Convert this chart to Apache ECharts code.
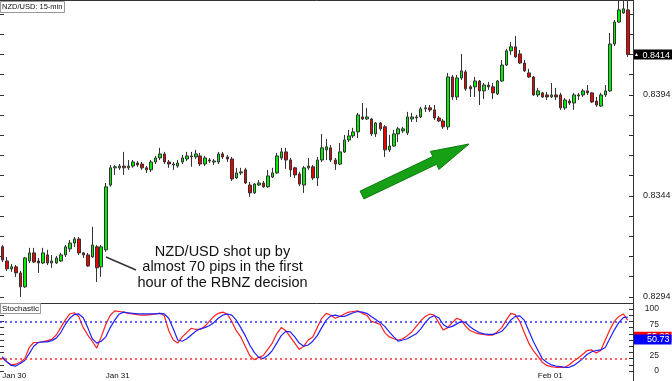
<!DOCTYPE html>
<html><head><meta charset="utf-8">
<script src="https://cdn.jsdelivr.net/npm/echarts@6/dist/echarts.min.js"></script>
<style>html,body{margin:0;padding:0;background:#fff}#c{width:672px;height:381px}</style>
</head><body><div id="c"></div>
<script>
// ---- NZD/USD 15-min candles (140 bars) ----
const open = [
0.83188,0.83118,0.83079,0.83089,0.83059,0.82990,0.83118,0.83158,0.83118,0.83108,
0.83148,0.83108,0.83108,0.83118,0.83148,0.83178,0.83207,0.83227,0.83158,0.83148,
0.83138,0.83188,0.83089,0.83173,0.83494,0.83579,0.83579,0.83588,0.83579,0.83588,
0.83603,0.83598,0.83579,0.83569,0.83608,0.83628,0.83648,0.83608,0.83593,0.83588,
0.83608,0.83623,0.83638,0.83633,0.83638,0.83598,0.83618,0.83608,0.83608,0.83648,
0.83633,0.83623,0.83529,0.83554,0.83569,0.83494,0.83455,0.83494,0.83504,0.83485,
0.83534,0.83554,0.83628,0.83658,0.83618,0.83579,0.83549,0.83494,0.83579,0.83584,
0.83529,0.83618,0.83668,0.83678,0.83618,0.83598,0.83658,0.83717,0.83737,0.83757,
0.83831,0.83821,0.83821,0.83747,0.83801,0.83782,0.83668,0.83687,0.83747,0.83762,
0.83752,0.83821,0.83826,0.83831,0.83871,0.83876,0.83866,0.83826,0.83811,0.83782,
0.84029,0.83930,0.84024,0.84054,0.83980,0.83980,0.84009,0.83960,0.83989,0.83980,
0.83945,0.84009,0.84088,0.84158,0.84178,0.84143,0.84098,0.84049,0.84029,0.83940,
0.83950,0.83940,0.83930,0.83940,0.83940,0.83876,0.83910,0.83900,0.83935,0.83940,
0.83960,0.83950,0.83910,0.83885,0.83940,0.83960,0.84192,0.84301,0.84346,0.84361];
const close = [
0.83123,0.83079,0.83089,0.83059,0.82990,0.83133,0.83158,0.83113,0.83108,0.83158,
0.83108,0.83118,0.83133,0.83148,0.83188,0.83207,0.83227,0.83158,0.83148,0.83093,
0.83197,0.83084,0.83188,0.83485,0.83579,0.83584,0.83588,0.83579,0.83588,0.83608,
0.83593,0.83579,0.83569,0.83608,0.83628,0.83648,0.83608,0.83598,0.83598,0.83603,
0.83628,0.83638,0.83633,0.83648,0.83598,0.83628,0.83613,0.83613,0.83648,0.83633,
0.83623,0.83524,0.83554,0.83559,0.83504,0.83455,0.83499,0.83504,0.83485,0.83539,
0.83554,0.83638,0.83658,0.83618,0.83569,0.83544,0.83499,0.83579,0.83588,0.83529,
0.83618,0.83678,0.83683,0.83618,0.83598,0.83658,0.83717,0.83737,0.83757,0.83841,
0.83821,0.83831,0.83747,0.83801,0.83772,0.83668,0.83687,0.83747,0.83772,0.83772,
0.83831,0.83831,0.83831,0.83871,0.83876,0.83866,0.83826,0.83811,0.83782,0.84029,
0.83930,0.84024,0.84059,0.83970,0.83970,0.84009,0.83960,0.83989,0.83980,0.83950,
0.84009,0.84088,0.84158,0.84178,0.84128,0.84098,0.84059,0.84029,0.83940,0.83960,
0.83930,0.83930,0.83940,0.83930,0.83876,0.83915,0.83900,0.83940,0.83940,0.83960,
0.83950,0.83905,0.83890,0.83940,0.83960,0.84192,0.84301,0.84361,0.84366,0.84140];
const low = [
0.83113,0.83069,0.83064,0.83039,0.82940,0.82985,0.83108,0.83108,0.83059,0.83103,
0.83098,0.83084,0.83103,0.83113,0.83138,0.83163,0.83188,0.83148,0.83133,0.83089,
0.83133,0.83014,0.83039,0.83163,0.83485,0.83544,0.83569,0.83544,0.83569,0.83579,
0.83584,0.83569,0.83554,0.83559,0.83598,0.83618,0.83598,0.83579,0.83569,0.83579,
0.83598,0.83613,0.83584,0.83623,0.83588,0.83588,0.83603,0.83593,0.83598,0.83623,
0.83608,0.83514,0.83524,0.83544,0.83499,0.83435,0.83450,0.83489,0.83480,0.83480,
0.83529,0.83549,0.83618,0.83574,0.83534,0.83529,0.83489,0.83455,0.83569,0.83519,
0.83489,0.83608,0.83618,0.83608,0.83569,0.83593,0.83653,0.83707,0.83727,0.83727,
0.83816,0.83816,0.83737,0.83732,0.83762,0.83633,0.83658,0.83683,0.83707,0.83752,
0.83742,0.83806,0.83806,0.83826,0.83856,0.83856,0.83816,0.83806,0.83772,0.83767,
0.83915,0.83915,0.84014,0.83960,0.83930,0.83930,0.83890,0.83920,0.83965,0.83920,
0.83940,0.84004,0.84083,0.84138,0.84123,0.84093,0.84054,0.84024,0.83935,0.83930,
0.83925,0.83915,0.83925,0.83915,0.83866,0.83866,0.83890,0.83866,0.83915,0.83930,
0.83940,0.83900,0.83881,0.83881,0.83930,0.83955,0.84182,0.84296,0.84341,0.84128];
const high = [
0.83197,0.83138,0.83103,0.83098,0.83069,0.83138,0.83183,0.83183,0.83133,0.83183,
0.83173,0.83148,0.83143,0.83158,0.83197,0.83222,0.83237,0.83237,0.83163,0.83158,
0.83287,0.83197,0.83197,0.83504,0.83593,0.83593,0.83598,0.83658,0.83618,0.83618,
0.83613,0.83608,0.83588,0.83618,0.83638,0.83678,0.83658,0.83618,0.83608,0.83618,
0.83643,0.83658,0.83658,0.83668,0.83653,0.83638,0.83628,0.83623,0.83658,0.83658,
0.83643,0.83633,0.83579,0.83579,0.83579,0.83509,0.83504,0.83519,0.83514,0.83569,
0.83579,0.83653,0.83678,0.83678,0.83628,0.83584,0.83559,0.83588,0.83628,0.83593,
0.83633,0.83747,0.83722,0.83692,0.83628,0.83702,0.83742,0.83767,0.83777,0.83851,
0.83900,0.83876,0.83826,0.83806,0.83806,0.83791,0.83742,0.83767,0.83782,0.83782,
0.83856,0.83851,0.83841,0.83881,0.83890,0.83890,0.83890,0.83836,0.83821,0.84049,
0.84039,0.84039,0.84143,0.84064,0.83989,0.84029,0.84014,0.83999,0.84004,0.83999,
0.84014,0.84113,0.84168,0.84202,0.84232,0.84163,0.84113,0.84069,0.84034,0.83975,
0.83955,0.83955,0.83999,0.83975,0.83950,0.83925,0.83920,0.83950,0.83950,0.83970,
0.83989,0.83955,0.83930,0.83950,0.83989,0.84247,0.84311,0.84420,0.84420,0.84420];

// ---- Stochastic oscillator ----
const stochK = [
21,15,10,11,14,20,38,46,46,47, 49,51,58,70,82,92,94,88,70,58,
48,37,55,75,90,97,96,95,93,92, 91,90,90,91,92,93,89,65,50,45,
55,62,69,67,
67,72,80,88,93,95,92,80,65,55, 40,25,18,22,25,35,45,60,70,65,
55,45,35,40,50,55,70,85,93,90, 85,88,92,95,96,97,93,90,80,78,
75,62,55,52,
50,52,57,63,72,81,88,92,90,78, 66,70,78,85,82,72,65,62,60,59,
58,58,63,70,82,93,91,80,62,45, 33,24,14,9,7,6,6,6,10,16,
21,27,33,34,29,33,50,66,80,88, 92,82];
const stochD = [
23,15,9,8,12,17,28,40,46,47, 47,49,53,62,75,85,91,92,86,70,
52,45,48,55,70,82,92,95,94,93, 92,92,92,92,92,93,92,85,68,50,
48,52,58,64,
68,70,73,78,85,90,92,90,82,70, 57,42,30,22,20,25,33,45,57,64,
63,55,45,40,42,48,57,70,82,89, 90,88,88,91,94,96,95,93,88,83,
78,72,63,55,
48,50,52,56,60,68,78,86,89,86, 75,70,72,76,80,78,71,66,62,60,
59,59,61,64,72,82,88,89,82,65, 48,34,20,14,10,8,7,6,6,9,
14,20,27,31,33,34,38,52,66,78, 86,87];
const stochLevels = {upper: 80, lower: 20};
const stochCurrent = {k: 55.20, d: 50.73};

// ---- axis labels ----
const dateTicks = {0: 'Jan 30', 23: 'Jan 31', 119: 'Feb 01'};
const priceLabels = [0.8294, 0.8344, 0.8394];
const priceTicks = [0.8294,0.8304,0.8314,0.8324,0.8334,0.8344,0.8354,0.8364,0.8374,0.8384,0.8394,0.8404,0.8414,0.8424,0.8434];
const stochLabels = [0, 25, 75, 100];
const stochTicks = [0,10,20,30,40,50,60,70,80,90,100];
const lastPrice = close[close.length - 1];

const categories = [];
const t0 = Date.UTC(2013, 0, 30, 18, 15);
for (let i = 0; i < open.length; i++) {
  const d = new Date(t0 + i * 15 * 60000);
  categories.push(d.toISOString().slice(5, 16));
}
const candles = open.map((o, i) => [o, close[i], low[i], high[i]]);

const FONT = '"Liberation Sans", Arial, sans-serif';
const chart = echarts.init(document.getElementById('c'), null, {renderer: 'canvas'});
const yMin = 0.8291, yMax = 0.8440;
const gridW = 630;

const option = {
  animation: false,
  backgroundColor: '#ffffff',
  textStyle: {fontFamily: FONT},
  grid: [
    {left: 0, top: 2, width: gridW, height: 301, outerBoundsMode: 'none', containLabel: false},
    {left: 0, top: 309, width: gridW, height: 62, outerBoundsMode: 'none', containLabel: false}
  ],
  xAxis: [
    {type: 'category', gridIndex: 0, data: categories, boundaryGap: true,
     axisLine: {show: false}, axisTick: {show: false}, axisLabel: {show: false}, splitLine: {show: false}},
    {type: 'category', gridIndex: 1, data: categories, boundaryGap: true,
     axisLine: {show: false}, axisTick: {show: false}, splitLine: {show: false},
     axisLabel: {
       show: true, align: 'left', margin: 1, color: '#111', fontSize: 8, fontFamily: FONT,
       interval: (idx) => dateTicks[idx] !== undefined,
       formatter: (v, idx) => dateTicks[idx] || ''
     }}
  ],
  yAxis: [
    {type: 'value', gridIndex: 0, position: 'right', offset: 3, min: yMin, max: yMax,
     splitLine: {show: false}, axisLine: {show: false},
     axisTick: {show: true, inside: true, length: 4, customValues: priceTicks, lineStyle: {color: '#333'}},
     axisLabel: {show: true, customValues: priceLabels, margin: 10, align: 'left', color: '#222', fontSize: 9, fontFamily: FONT,
       formatter: (v) => v.toFixed(4)}},
    {type: 'value', gridIndex: 1, position: 'right', offset: 3, min: 0, max: 100,
     splitLine: {show: false}, axisLine: {show: false},
     axisTick: {show: true, inside: true, length: 4, customValues: stochTicks, lineStyle: {color: '#333'}},
     axisLabel: {show: true, customValues: stochLabels, margin: 26, align: 'right', color: '#222', fontSize: 8.5, fontFamily: FONT}},
    {type: 'value', gridIndex: 0, position: 'left', min: yMin, max: yMax,
     splitLine: {show: false}, axisLine: {show: false}, axisLabel: {show: false},
     axisTick: {show: true, inside: true, length: 4, customValues: priceTicks, lineStyle: {color: '#333'}}},
    {type: 'value', gridIndex: 1, position: 'left', min: 0, max: 100,
     splitLine: {show: false}, axisLine: {show: false}, axisLabel: {show: false},
     axisTick: {show: true, inside: true, length: 4, customValues: stochTicks, lineStyle: {color: '#333'}}},
    {type: 'value', gridIndex: 0, position: 'right', offset: 3, min: yMin, max: yMax, z: 5,
     splitLine: {show: false}, axisLine: {show: false}, axisTick: {show: false},
     axisLabel: {show: true, customValues: [lastPrice], margin: 0, align: 'left', color: '#fff',
       backgroundColor: '#000', padding: [1, 3, 0, 1], fontSize: 9, fontFamily: FONT,
       formatter: (v) => '{t|\u25B2} ' + v.toFixed(4),
       rich: {t: {fontSize: 5, color: '#fff', padding: [0, 1, 0, 0]}}}},
    {type: 'value', gridIndex: 1, position: 'right', offset: 3, min: 0, max: 100, z: 5,
     splitLine: {show: false}, axisLine: {show: false}, axisTick: {show: false},
     axisLabel: {show: true, customValues: [stochCurrent.k], margin: 0, align: 'left', color: '#fff',
       backgroundColor: '#ff0000', padding: [1, 2, 0, 14], fontSize: 9, fontFamily: FONT,
       formatter: (v) => v.toFixed(2)}},
    {type: 'value', gridIndex: 1, position: 'right', offset: 3, min: 0, max: 100, z: 6,
     splitLine: {show: false}, axisLine: {show: false}, axisTick: {show: false},
     axisLabel: {show: true, customValues: [stochCurrent.d], margin: 0, align: 'left', color: '#fff',
       backgroundColor: '#0000ff', padding: [1, 2, 0, 14], fontSize: 9, fontFamily: FONT,
       formatter: (v) => v.toFixed(2)}}
  ],
  series: [
    {type: 'candlestick', xAxisIndex: 0, yAxisIndex: 0, data: candles, barWidth: 3,
     itemStyle: {color: '#00ee00', color0: '#ee0000', borderColor: '#333', borderColor0: '#333', borderWidth: 1}},
    {type: 'line', xAxisIndex: 1, yAxisIndex: 1, data: stochK, symbol: 'none', smooth: false,
     lineStyle: {color: '#ff2020', width: 1.2}, z: 3,
     markLine: {silent: true, symbol: 'none', label: {show: false},
       data: [{yAxis: stochLevels.lower}], lineStyle: {color: '#ff3030', type: [2, 3], width: 1.5}}},
    {type: 'line', xAxisIndex: 1, yAxisIndex: 1, data: stochD, symbol: 'none', smooth: false,
     lineStyle: {color: '#2020ff', width: 1.2}, z: 4,
     markLine: {silent: true, symbol: 'none', label: {show: false},
       data: [{yAxis: stochLevels.upper}], lineStyle: {color: '#3030ff', type: [2, 3], width: 1.5}}}
  ],
  graphic: [
    {type: 'line', shape: {x1: 0, y1: 0.5, x2: 633, y2: 0.5}, style: {stroke: '#333', lineWidth: 1}, z: 10},
    {type: 'line', shape: {x1: 0, y1: 303.5, x2: 633, y2: 303.5}, style: {stroke: '#333', lineWidth: 1}, z: 10},
    {type: 'line', shape: {x1: 633.5, y1: 0, x2: 633.5, y2: 381}, style: {stroke: '#333', lineWidth: 1}, z: 10},
    {type: 'rect', shape: {x: 0.5, y: 1.5, width: 64, height: 11}, style: {fill: '#fff', stroke: '#999', lineWidth: 1}, z: 20},
    {type: 'text', x: 2, y: 7, style: {text: 'NZD/USD: 15-min', font: '7.5px ' + FONT, fill: '#111', textVerticalAlign: 'middle'}, z: 21},
    {type: 'rect', shape: {x: 0.5, y: 303.5, width: 40, height: 10}, style: {fill: '#fff', stroke: '#999', lineWidth: 1}, z: 20},
    {type: 'text', x: 2, y: 308.5, style: {text: 'Stochastic', font: '8px ' + FONT, fill: '#111', textVerticalAlign: 'middle'}, z: 21},
    // annotation
    {type: 'line', shape: {x1: 106, y1: 257, x2: 136, y2: 270}, style: {stroke: '#333', lineWidth: 1.5}, z: 15},
    {type: 'text', x: 222.5, y: 259, style: {text: 'NZD/USD shot up by', font: '14.5px ' + FONT, fill: '#111', textAlign: 'center', textVerticalAlign: 'bottom'}, z: 15},
    {type: 'text', x: 222.5, y: 274.5, style: {text: 'almost 70 pips in the first', font: '14.5px ' + FONT, fill: '#111', textAlign: 'center', textVerticalAlign: 'bottom'}, z: 15},
    {type: 'text', x: 222.5, y: 290, style: {text: 'hour of the RBNZ decision', font: '14.5px ' + FONT, fill: '#111', textAlign: 'center', textVerticalAlign: 'bottom'}, z: 15},
    // trend arrow
    {type: 'polygon', shape: {points: [[360.1,191.1],[432.8,156.5],[430.4,151.4],[469,144],[439.0,169.4],[436.6,164.3],[363.9,198.9]]},
     style: {fill: '#15a015', stroke: '#0d7a0d', lineWidth: 1}, z: 15}
  ]
};
chart.setOption(option);
</script>
</body></html>
